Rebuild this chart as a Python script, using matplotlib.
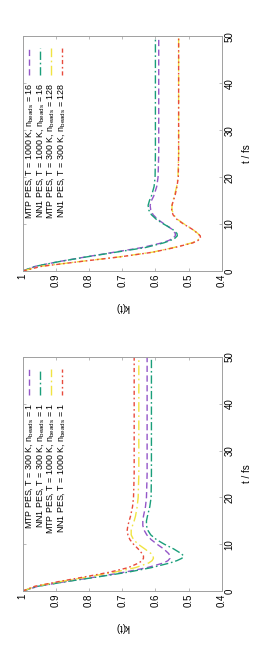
import matplotlib
matplotlib.use("Agg")
import matplotlib.pyplot as plt

# ----------------------------
# Data
# ----------------------------
t_fs = [0, 1, 2, 3, 4, 5, 6, 6.5, 7, 7.5, 8, 9, 10, 11, 12, 13, 14, 15, 16, 18,
        20, 25, 30, 35, 40, 45, 50]

# upper panel: 16 / 128 beads
mtp_1000_16 = [1.0, 0.962, 0.892, 0.81, 0.725, 0.64, 0.58, 0.56, 0.547, 0.54, 0.54,
               0.552, 0.573, 0.593, 0.607, 0.614, 0.616, 0.612, 0.605, 0.596,
               0.592, 0.59, 0.59, 0.59, 0.59, 0.59, 0.59]
nn1_1000_16 = [1.0, 0.962, 0.89, 0.808, 0.72, 0.63, 0.575, 0.555, 0.541, 0.534, 0.535,
               0.55, 0.575, 0.597, 0.612, 0.62, 0.622, 0.618, 0.612, 0.604,
               0.601, 0.60, 0.60, 0.60, 0.60, 0.60, 0.60]
mtp_300_128 = [1.0, 0.945, 0.83, 0.71, 0.61, 0.545, 0.49, 0.474, 0.466, 0.466, 0.472,
               0.49, 0.513, 0.533, 0.545, 0.55, 0.55, 0.547, 0.543, 0.536,
               0.532, 0.53, 0.53, 0.53, 0.53, 0.53, 0.53]
nn1_300_128 = [1.0, 0.943, 0.828, 0.708, 0.608, 0.542, 0.487, 0.472, 0.464, 0.465, 0.472,
               0.491, 0.515, 0.535, 0.547, 0.551, 0.55, 0.546, 0.541, 0.535,
               0.531, 0.53, 0.53, 0.53, 0.53, 0.53, 0.53]

# lower panel: 1 bead
mtp_300_1 = [1.0, 0.955, 0.872, 0.78, 0.695, 0.625, 0.575, 0.562, 0.556, 0.556, 0.56,
             0.575, 0.595, 0.613, 0.626, 0.634, 0.638, 0.638, 0.636, 0.63,
             0.627, 0.625, 0.625, 0.625, 0.625, 0.625, 0.625]
nn1_300_1 = [1.0, 0.955, 0.87, 0.775, 0.685, 0.612, 0.556, 0.535, 0.52, 0.515, 0.522,
             0.545, 0.573, 0.597, 0.614, 0.623, 0.627, 0.627, 0.624, 0.617,
             0.613, 0.612, 0.612, 0.612, 0.612, 0.612, 0.612]
mtp_1000_1 = [1.0, 0.962, 0.888, 0.805, 0.725, 0.66, 0.62, 0.61, 0.606, 0.607, 0.613,
              0.632, 0.652, 0.666, 0.673, 0.673, 0.669, 0.664, 0.66, 0.655,
              0.652, 0.65, 0.65, 0.65, 0.65, 0.65, 0.65]
nn1_1000_1 = [1.0, 0.964, 0.893, 0.815, 0.74, 0.682, 0.65, 0.64, 0.636, 0.636, 0.64,
              0.652, 0.666, 0.677, 0.683, 0.685, 0.683, 0.679, 0.675, 0.669,
              0.666, 0.664, 0.664, 0.664, 0.664, 0.664, 0.664]

labels_top = ["MTP PES, T = 1000 K, n$_{\\mathrm{beads}}$ = 16",
              "NN1 PES, T = 1000 K, n$_{\\mathrm{beads}}$ = 16",
              "MTP PES, T = 300 K, n$_{\\mathrm{beads}}$ = 128",
              "NN1 PES, T = 300 K, n$_{\\mathrm{beads}}$ = 128"]
labels_bot = ["MTP PES, T = 300 K, n$_{\\mathrm{beads}}$ = 1",
              "NN1 PES, T = 300 K, n$_{\\mathrm{beads}}$ = 1",
              "MTP PES, T = 1000 K, n$_{\\mathrm{beads}}$ = 1",
              "NN1 PES, T = 1000 K, n$_{\\mathrm{beads}}$ = 1"]

k_ticks = [1, 0.9, 0.8, 0.7, 0.6, 0.5, 0.4]
k_ticklabels = ["1", "0.9", "0.8", "0.7", "0.6", "0.5", "0.4"]
t_ticks = [0, 10, 20, 30, 40, 50]

# ----------------------------
# Style
# ----------------------------
plt.rcParams['font.family'] = ['Liberation Sans', 'DejaVu Sans']
plt.rcParams['mathtext.fontset'] = 'custom'
plt.rcParams['mathtext.rm'] = 'Liberation Sans'
plt.rcParams['mathtext.it'] = 'Liberation Sans:italic'
plt.rcParams['lines.scale_dashes'] = False

FS = 7
FS_LEG = 6.4
LW = 1.0
GRAY = '#a0a0a0'
colors = ['#9456c8', '#1a9e7a', '#f0e442', '#e84a3c']
dashes = [(4.5, 2.5), (6, 2, 1.2, 2), (7, 2.5, 1.2, 2.5), (3, 2, 1.2, 2)]


def draw_panel(ax, series, labels):
    for i, k in enumerate(series):
        # the page is turned: k runs along x, t along y
        ax.plot(k, t_fs, color=colors[i], lw=LW, dashes=dashes[i])

    ax.set_xlim(1, 0.4)
    ax.set_ylim(0, 50)
    ax.set_xticks(k_ticks)
    ax.set_xticklabels(k_ticklabels, rotation=90)
    ax.set_yticks(t_ticks)
    ax.set_yticklabels([str(v) for v in t_ticks], rotation=90, va='center')
    ax.yaxis.tick_right()
    ax.tick_params(axis='both', which='both', direction='in', length=2.5, width=0.5,
                   color=GRAY, labelsize=FS, pad=2, top=True, bottom=True,
                   left=True, right=True)
    for sp in ax.spines.values():
        sp.set_color(GRAY)
        sp.set_linewidth(0.7)

    ax.set_xlabel("k(t)", rotation=180, fontsize=FS, va='center')
    ax.xaxis.set_label_coords(0.5, -0.155)
    ax.yaxis.set_label_position('right')
    ax.set_ylabel("t / fs", rotation=90, fontsize=FS, va='center', ha='center')
    ax.yaxis.set_label_coords(1.127, 0.5)

    # legend, turned with the page
    xs = [0.033, 0.087, 0.141, 0.195]
    for i, lab in enumerate(labels):
        ax.plot([xs[i], xs[i]], [0.837, 0.951], transform=ax.transAxes,
                color=colors[i], lw=LW, dashes=dashes[i], clip_on=False)
        ax.text(xs[i], 0.805, lab, transform=ax.transAxes, rotation=90,
                ha='center', va='top', fontsize=FS_LEG)


fig = plt.figure(figsize=(2.64, 6.6), dpi=100)
ax_top = fig.add_axes([0.086, 0.5894, 0.754, 0.3553])
ax_bot = fig.add_axes([0.086, 0.1045, 0.754, 0.3545])

draw_panel(ax_top, [mtp_1000_16, nn1_1000_16, mtp_300_128, nn1_300_128], labels_top)
draw_panel(ax_bot, [mtp_300_1, nn1_300_1, mtp_1000_1, nn1_1000_1], labels_bot)

fig.savefig("out.png", dpi=100)
